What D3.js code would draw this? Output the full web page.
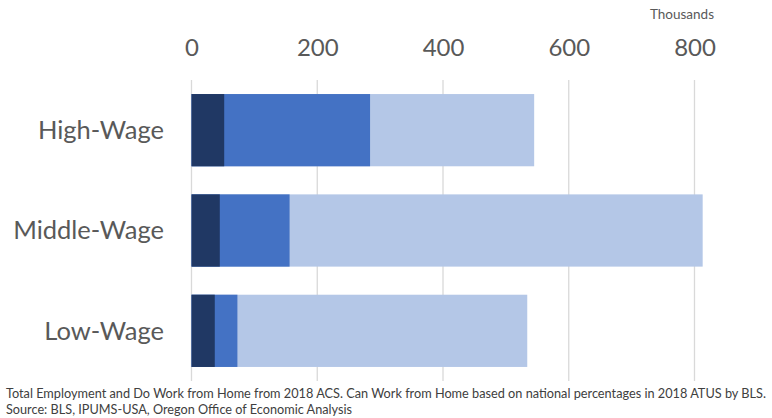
<!DOCTYPE html>
<html>
<head>
<meta charset="utf-8">
<script src="https://cdn.jsdelivr.net/npm/d3@7"></script>
<style>
  body { margin: 0; background: #fff; }
  svg text { font-family: Lato, "Open Sans", sans-serif; }
</style>
</head>
<body>
<svg id="chart"></svg>
<script>
// values in thousands
var categories = ["High-Wage", "Middle-Wage", "Low-Wage"];
var totalEmployment = [545, 813, 534];
var canWorkFromHome = [284, 156, 73];
var doWorkFromHome = [52, 45, 37];
var tickValues = [0, 200, 400, 600, 800];
var footnotes = [
  "Total Employment and Do Work from Home from 2018 ACS. Can Work from Home based on national percentages in 2018 ATUS by BLS.",
  "Source: BLS, IPUMS-USA, Oregon Office of Economic Analysis"
];

var width = 772, height = 418;
var svg = d3.select("#chart").attr("width", width).attr("height", height);

var x = d3.scaleLinear().domain([0, 800]).range([191.5, 694.5]);
var y = d3.scaleBand().domain(categories).range([80, 381])
  .paddingInner(0.28).paddingOuter(0.14);

// gridlines
svg.append("g").selectAll("line")
  .data(tickValues)
  .enter().append("line")
  .attr("x1", d => x(d)).attr("x2", d => x(d))
  .attr("y1", 80).attr("y2", 381)
  .attr("stroke", "#d9d9d9").attr("stroke-width", 1.3);

// tick labels
var xAxis = d3.axisTop(x).tickValues(tickValues).tickSize(0).tickPadding(0);
var ax = svg.append("g").attr("transform", "translate(0,56)").call(xAxis);
ax.select(".domain").remove();
ax.selectAll("text")
  .attr("fill", "#595959")
  .style("font-size", "24px")
  .attr("dy", 0);

svg.append("text")
  .attr("x", 682).attr("y", 19)
  .attr("text-anchor", "middle")
  .attr("fill", "#595959")
  .style("font-size", "13.5px")
  .text("Thousands");

// overlapping bars, widest first
var series = [
  { vals: totalEmployment, color: "#b4c7e7" },
  { vals: canWorkFromHome, color: "#4472c4" },
  { vals: doWorkFromHome, color: "#203864" }
];
series.forEach(s => {
  svg.append("g").selectAll("rect")
    .data(categories)
    .enter().append("rect")
    .attr("x", x(0))
    .attr("y", d => y(d))
    .attr("width", (d, i) => x(s.vals[i]) - x(0))
    .attr("height", y.bandwidth())
    .attr("fill", s.color);
});

// category labels
svg.append("g").selectAll("text")
  .data(categories)
  .enter().append("text")
  .attr("x", 164)
  .attr("y", d => y(d) + y.bandwidth() / 2)
  .attr("dy", "0.35em")
  .attr("text-anchor", "end")
  .attr("fill", "#595959")
  .style("font-size", "25.5px")
  .text(d => d);

// footnote, squeezed to the reference's line widths
var noteWidths = [760, 346];
svg.append("g").selectAll("text")
  .data(footnotes)
  .enter().append("text")
  .attr("x", 6)
  .attr("y", (d, i) => 398 + i * 16)
  .attr("fill", "#404040")
  .attr("textLength", (d, i) => noteWidths[i])
  .attr("lengthAdjust", "spacingAndGlyphs")
  .style("font-size", "12.5px")
  .text(d => d);
</script>
</body>
</html>
